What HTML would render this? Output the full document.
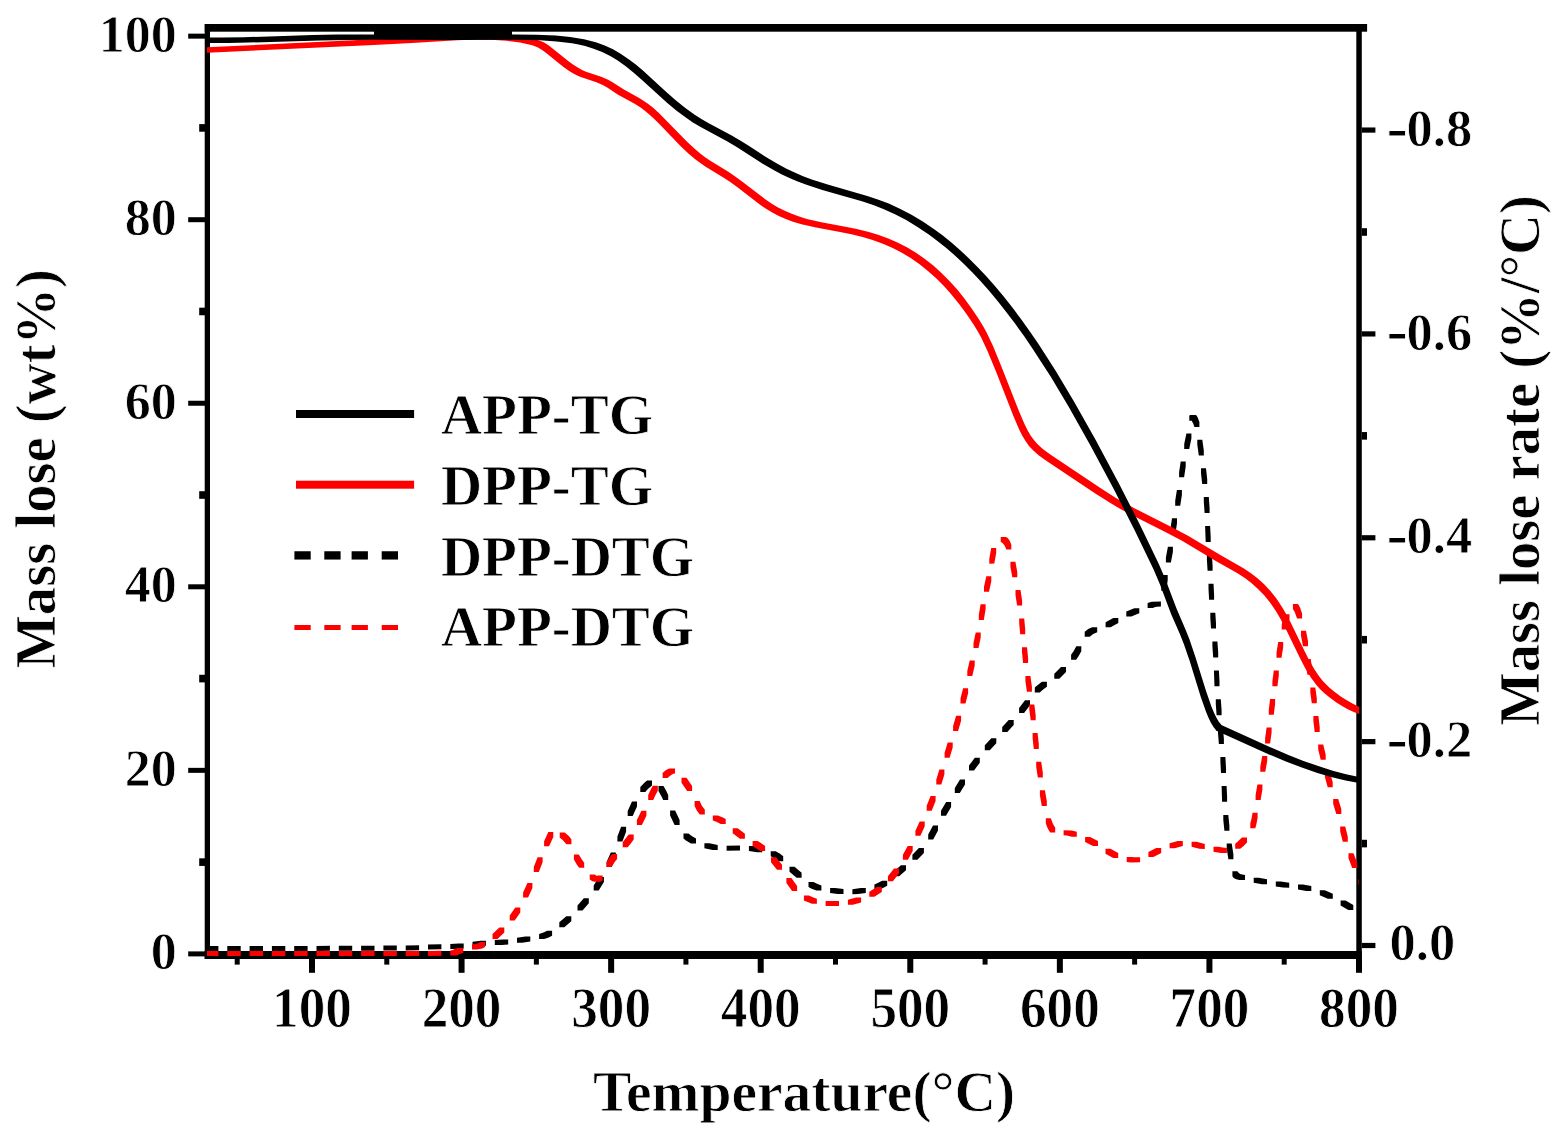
<!DOCTYPE html>
<html><head><meta charset="utf-8"><title>TG / DTG</title>
<style>
html,body{margin:0;padding:0;background:#fff;}
body{width:1558px;height:1138px;overflow:hidden;}
svg{display:block;}
text{font-family:'Liberation Serif', 'Times New Roman', serif;font-weight:bold;fill:#000;stroke:#fff;stroke-width:0.8px;paint-order:fill stroke;}
</style></head>
<body>
<svg width="1558" height="1138" viewBox="0 0 1558 1138">
<rect width="1558" height="1138" fill="#fff"/>
<rect x="204.80" y="24.00" width="1162.30" height="7.70" fill="#000"/>
<rect x="204.70" y="24.00" width="5.30" height="935.00" fill="#000"/>
<rect x="1356.30" y="24.00" width="5.50" height="935.00" fill="#000"/>
<rect x="204.70" y="951.00" width="1157.10" height="8.00" fill="#000"/>
<rect x="188.20" y="951.40" width="16.80" height="5.00" fill="#000"/>
<rect x="188.20" y="767.85" width="16.80" height="5.00" fill="#000"/>
<rect x="188.20" y="584.30" width="16.80" height="5.00" fill="#000"/>
<rect x="188.20" y="400.75" width="16.80" height="5.00" fill="#000"/>
<rect x="188.20" y="217.20" width="16.80" height="5.00" fill="#000"/>
<rect x="188.20" y="33.65" width="16.80" height="5.00" fill="#000"/>
<rect x="199.20" y="858.33" width="5.80" height="7.60" fill="#000"/>
<rect x="199.20" y="674.78" width="5.80" height="7.60" fill="#000"/>
<rect x="199.20" y="491.22" width="5.80" height="7.60" fill="#000"/>
<rect x="199.20" y="307.67" width="5.80" height="7.60" fill="#000"/>
<rect x="199.20" y="124.12" width="5.80" height="7.60" fill="#000"/>
<rect x="1361.80" y="942.90" width="13.60" height="5.20" fill="#000"/>
<rect x="1361.80" y="739.04" width="13.60" height="5.20" fill="#000"/>
<rect x="1361.80" y="535.18" width="13.60" height="5.20" fill="#000"/>
<rect x="1361.80" y="331.32" width="13.60" height="5.20" fill="#000"/>
<rect x="1361.80" y="127.46" width="13.60" height="5.20" fill="#000"/>
<rect x="1361.80" y="839.77" width="5.20" height="7.60" fill="#000"/>
<rect x="1361.80" y="635.91" width="5.20" height="7.60" fill="#000"/>
<rect x="1361.80" y="432.05" width="5.20" height="7.60" fill="#000"/>
<rect x="1361.80" y="228.19" width="5.20" height="7.60" fill="#000"/>
<rect x="309.00" y="959.00" width="6.00" height="13.80" fill="#000"/>
<rect x="458.57" y="959.00" width="6.00" height="13.80" fill="#000"/>
<rect x="608.14" y="959.00" width="6.00" height="13.80" fill="#000"/>
<rect x="757.71" y="959.00" width="6.00" height="13.80" fill="#000"/>
<rect x="907.28" y="959.00" width="6.00" height="13.80" fill="#000"/>
<rect x="1056.85" y="959.00" width="6.00" height="13.80" fill="#000"/>
<rect x="1206.42" y="959.00" width="6.00" height="13.80" fill="#000"/>
<rect x="1355.99" y="959.00" width="6.00" height="13.80" fill="#000"/>
<rect x="234.72" y="959.00" width="5.00" height="5.60" fill="#000"/>
<rect x="384.28" y="959.00" width="5.00" height="5.60" fill="#000"/>
<rect x="533.86" y="959.00" width="5.00" height="5.60" fill="#000"/>
<rect x="683.42" y="959.00" width="5.00" height="5.60" fill="#000"/>
<rect x="833.00" y="959.00" width="5.00" height="5.60" fill="#000"/>
<rect x="982.57" y="959.00" width="5.00" height="5.60" fill="#000"/>
<rect x="1132.13" y="959.00" width="5.00" height="5.60" fill="#000"/>
<rect x="1281.70" y="959.00" width="5.00" height="5.60" fill="#000"/>
<path fill="#000" d="M644.4,782.7 640.3,787.1 640.3,792.1 645.3,792.1 647.9,789.1 652,785.5 652,780.5 647,780.5ZM661.8,796.9 663.2,799.9 668.2,799.9 668.2,794.9 666.3,791.1 663.5,785.9 658.5,785.9 658.5,790.9ZM632.7,815.9 637,806.5 637,801.5 632,801.5 627.7,810.9 627.7,815.9ZM670.1,815.6 674.6,824.9 679.6,824.9 679.6,819.9 675.1,810.6 670.1,810.6ZM622.4,841.6 626.1,831.8 626.1,826.8 621.1,826.8 617.4,836.6 617.4,841.6ZM685.9,840.5 691,843.4 696,843.4 696,838.4 691.7,836 688.5,833.5 683.5,833.5 683.5,838.5ZM704.4,848.2 712.7,850 717.7,850 717.7,845 709.4,843.2 704.4,843.2ZM611.6,867 615.8,857.5 615.8,852.5 610.8,852.5 606.6,862 606.6,867ZM598.7,890.5 603.9,882 603.9,877 598.9,877 593.7,885.5 593.7,890.5ZM583.8,898.3 577.5,905.4 577.5,910.4 582.5,910.4 588.8,903.3 588.8,898.3ZM566.3,916.3 559.3,922.3 559.3,927.3 564.3,927.3 571.3,921.3 571.3,916.3ZM544.1,932.3 539.1,934.1 539.1,939.1 544.1,939.1 548.1,937.8 552.1,935.8 552.1,930.8 547.1,930.8ZM525.3,936.4 517,937.7 517,942.7 522,942.7 530.3,941.4 530.3,936.4ZM503.2,939.4 494.8,939.9 494.8,944.9 501.6,944.9 508.2,944.4 508.2,939.4ZM480.9,940.7 472.5,941.8 472.5,946.8 477.5,946.8 485.9,945.7 485.9,940.7ZM458.7,943.4 450.3,943.9 450.3,948.9 455.3,948.9 463.7,948.4 463.7,943.4ZM441.4,944.3 428,944.5 428,949.5 441.4,949.3ZM405.7,945.4 405.7,950.4 419.1,950.2 419.1,945.2ZM383.4,950.6 396.8,950.6 396.8,945.6 383.4,945.6ZM374.5,945.7 361.1,945.7 361.1,950.7 374.5,950.7ZM352.2,945.8 338.8,945.8 338.8,950.8 352.2,950.8ZM329.9,945.8 316.5,945.9 316.5,950.9 329.9,950.8ZM307.6,945.9 294.2,945.9 294.2,950.9 307.6,950.9ZM207,950.9 218.4,950.9 218.4,945.9 207,945.9ZM227.3,950.9 240.7,950.9 240.7,945.9 227.3,945.9ZM285.3,945.9 271.9,945.9 271.9,950.9 285.3,950.9ZM249.6,950.9 263,950.9 263,945.9 249.6,945.9ZM1175.4,533.9 1177,523.3 1177,518.3 1172,518.3 1170.4,529 1170.4,534ZM1170.9,562.4 1172.9,551.8 1172.9,546.8 1167.9,546.8 1165.9,557.4 1165.9,562.4ZM1166.3,590.7 1167.7,580 1167.7,575 1162.7,575 1161.3,585.7 1161.3,590.7ZM1151.7,601.8 1147.6,603.1 1147.6,608.1 1152.6,608.1 1155.4,607.1 1156.7,606.8 1160.9,606.6 1160.9,601.6ZM1134.3,608.2 1126.3,611.5 1126.3,616.5 1131.3,616.5 1139.3,613.2 1139.3,608.2ZM1113.3,618.1 1105.6,622.3 1105.6,627.3 1110.6,627.3 1118.3,623.1 1118.3,618.1ZM1088.2,629.1 1084.7,631.8 1084.7,636.8 1089.7,636.8 1093.2,634.1 1097.2,632.2 1097.2,627.2 1092.2,627.2ZM1076.1,659.7 1078.7,656 1081.3,651.2 1081.3,646.2 1076.3,646.2 1073.7,651 1071.1,654.7 1071.1,659.7ZM1061,667.1 1054.3,673.7 1054.3,678.7 1059.3,678.7 1066,672.1 1066,667.1ZM1036.5,685.9 1034.8,687.5 1034.8,692.5 1039.8,692.5 1043.1,689.5 1046.9,686.8 1046.9,681.8 1041.9,681.8ZM1024.1,713.1 1030,705.3 1030,700.3 1025,700.3 1019.1,708.1 1019.1,713.1ZM1007.3,731.9 1013.7,725.1 1013.7,720.1 1008.7,720.1 1002.2,727 1002.2,732ZM991.3,738.2 984.8,745.2 984.8,750.2 989.8,750.2 996.3,743.2 996.3,738.2ZM974.8,757.7 969,765.6 969,770.6 974,770.6 979.8,762.7 979.8,757.7ZM960,779.4 954.8,787.9 954.8,792.9 959.8,792.9 965,784.4 965,779.4ZM946,815.8 951.1,807.1 951.1,802.1 946.1,802.1 941,810.8 941,815.8ZM933.2,839.4 938,830.5 938,825.5 933,825.5 928.2,834.4 928.2,839.4ZM740,845.5 726.6,845.8 726.6,850.8 740,850.5ZM748.9,851.1 757.2,852.3 762.2,852.3 762.2,847.3 753.9,846.1 748.9,846.1ZM917.4,859.7 923.9,852.9 923.9,847.9 918.9,847.9 912.4,854.7 912.4,859.7ZM773.8,858 778.2,861.3 783.2,861.3 783.2,856.3 779.7,853.6 775.7,851.3 770.7,851.3 770.7,856.3ZM901,865.2 894.1,871.3 894.1,876.3 899.1,876.3 906,870.2 906,865.2ZM789.5,871.8 796.6,877.7 801.6,877.7 801.6,872.7 794.5,866.8 789.5,866.8ZM876.7,883.5 874.4,884.5 874.4,889.5 879.4,889.5 883.5,887.7 887.2,885.7 887.2,880.7 882.2,880.7ZM811.6,888.7 816.4,890.5 821.4,890.5 821.4,885.5 817.6,884.1 813.5,882 808.5,882 808.5,887ZM837.8,893.9 843.5,893.9 843.5,888.9 835.1,888.1 830.1,888.1 830.1,893.1ZM860.8,888.1 852.4,889.2 852.4,894.2 858,894.1 865.8,893.1 865.8,888.1ZM1191.7,420.8 1193.3,423.8 1194.4,427.1 1199.4,427.1 1199.4,422.1 1197.6,417.3 1196.3,415.3 1195.7,414.9 1190.7,414.9 1190.1,415 1189.5,415.5 1189.3,415.8 1189.3,420.8ZM1189.2,449 1191.4,438.4 1191.4,433.4 1186.4,433.4 1184.2,444 1184.2,449ZM1197.3,444.7 1198.8,455.4 1203.8,455.4 1203.8,450.4 1202.3,439.7 1197.3,439.7ZM1184.1,477.2 1185.7,466.4 1185.7,461.4 1180.7,461.4 1179.1,472.2 1179.1,477.2ZM1201,473.3 1202.2,484.1 1207.2,484.1 1207.2,479.1 1206,468.3 1201,468.3ZM1180.2,505.7 1181.9,495 1181.9,490 1176.9,490 1175.2,500.7 1175.2,505.7ZM1203.8,502 1204.6,512.9 1209.6,512.9 1209.6,507.9 1208.8,497 1203.8,497ZM1205.1,526 1205.7,541.9 1210.7,541.9 1210.7,536.9 1210.1,526ZM1206.9,559.9 1207.6,570.7 1212.6,570.7 1212.6,565.7 1211.9,554.9 1206.9,554.9ZM1208.5,588.8 1209.1,599.7 1214.1,599.7 1214.1,594.7 1213.5,583.8 1208.5,583.8ZM1210.3,617.7 1211,628.5 1216,628.5 1216,623.5 1215.3,612.7 1210.3,612.7ZM1212.4,646.5 1213.2,657.4 1218.2,657.4 1218.2,652.4 1217.4,641.5 1212.4,641.5ZM1213.9,670.4 1214.5,686.3 1219.5,686.3 1219.5,681.3 1218.9,670.4ZM1215.8,704.3 1216.6,715.2 1221.6,715.2 1221.6,710.2 1220.8,699.3 1215.8,699.3ZM1218,733.2 1218.9,744 1223.9,744 1223.9,739 1223,728.2 1218,728.2ZM1220.4,762 1221,772.9 1226,772.9 1226,767.9 1225.4,757 1220.4,757ZM1221.6,785.9 1222.1,801.8 1227.1,801.8 1227.1,796.8 1226.6,785.9ZM1223.3,819.9 1224.4,830.7 1229.4,830.7 1229.4,825.7 1228.3,814.9 1223.3,814.9ZM1226.7,848.5 1228.4,859.2 1233.4,859.2 1233.4,854.2 1231.7,843.5 1226.7,843.5ZM1239.5,880 1245,880 1245,875 1242.3,874.6 1240.1,873.9 1238.3,872.5 1237.4,871.3 1232.4,871.3 1232.4,876.3 1233.3,877.5 1234.2,878.3 1236.2,879.3ZM1253.7,882.8 1262,884.2 1267,884.2 1267,879.2 1258.7,877.8 1253.7,877.8ZM1282.9,887.6 1289.2,887.7 1289.2,882.7 1280.8,881.5 1275.8,881.5 1275.8,886.5ZM1298,889.4 1306.3,890.9 1311.3,890.9 1311.3,885.9 1303,884.4 1298,884.4ZM1319.8,895.3 1327.8,898.8 1332.8,898.8 1332.8,893.8 1324.8,890.3 1319.8,890.3ZM1340.6,905.6 1348.3,910 1353.3,910 1353.3,905 1345.6,900.6 1340.6,900.6Z"/>
<path fill="#f00" d="M667.6,778 669.5,776.2 671.9,774.5 673.5,773.7 675,773.4 675,768.4 670,768.4 668.5,768.7 665.3,770.5 662.6,773 662.6,778ZM681.5,782.7 687.1,790.9 692.1,790.9 692.1,785.9 686.5,777.7 681.5,777.7ZM653.2,799.9 655.5,794.9 657.8,790.8 657.8,785.8 652.8,785.8 650.5,789.9 648.2,794.9 648.2,799.9ZM698,812.3 699.8,814.5 704.8,814.5 704.8,809.5 703.5,808.1 701.9,805.7 699.6,801 694.6,801 694.6,806 696.4,809.8ZM641.9,824.9 646.4,815.7 646.4,810.7 641.4,810.7 636.9,819.9 636.9,824.9ZM716.3,821.8 720.7,824.1 725.7,824.1 725.7,819.1 722.3,817.2 717.8,815.6 712.8,815.6 712.8,820.6ZM732.7,833.2 739.9,838.8 744.9,838.8 744.9,833.8 737.7,828.2 732.7,828.2ZM562.9,840.2 566.4,844.2 571.4,844.2 571.4,839.2 568.8,836.1 564.7,832.6 559.7,832.6 559.7,837.6ZM544.1,846.3 549.1,846.3 553.3,836.9 553.3,831.9 548.3,831.9 544.1,841.3ZM628.7,834.5 622.7,842.2 622.7,847.2 627.7,847.2 630.8,843.5 633.7,839.5 633.7,834.5ZM609.7,857.1 606.6,862.1 606.6,867.1 611.6,867.1 614.7,862.1 617.1,858.9 617.1,853.9 612.1,853.9ZM577.4,865.4 579.2,867.8 584.2,867.8 584.2,862.8 581.3,858.8 578.9,854.4 573.9,854.4 573.9,859.4ZM538.8,872.1 542.6,862.3 542.6,857.3 537.6,857.3 533.8,867.1 533.8,872.1ZM594.7,881.8 600.4,881.7 602.6,880.6 602.6,875.6 597.6,875.6 597,876.1 594.7,874.6 589.7,874.6 589.7,879.6 592.4,881.3ZM528.1,897.5 532.4,888.1 532.4,883.1 527.4,883.1 523.1,892.5 523.1,897.5ZM515.3,907.4 509.7,915.5 509.7,920.5 514.7,920.5 520.3,912.4 520.3,907.4ZM499.3,927.5 492.5,933.9 492.5,938.9 497.5,938.9 504.3,932.5 504.3,927.5ZM477.4,943.5 472,944.6 472,949.6 477,949.6 482.3,948.5 485.1,947 485.1,942 480.1,942ZM455.4,955.4 458.1,955 459.2,954.1 463.3,953 463.3,948 458.3,948 454.2,949.1 453.1,950 450.3,950.4 450.3,955.4ZM428,955.9 441.4,955.8 441.4,950.8 428,950.9ZM405.7,951.1 405.7,956.1 419.1,956 419.1,951ZM207,956.1 218.4,956.1 218.4,951.1 207,951.1ZM271.9,956.1 285.3,956.1 285.3,951.1 271.9,951.1ZM249.6,956.1 263,956.1 263,951.1 249.6,951.1ZM227.3,956.1 240.7,956.1 240.7,951.1 227.3,951.1ZM294.2,956.1 307.6,956.1 307.6,951.1 294.2,951.1ZM316.5,956.1 329.9,956.1 329.9,951.1 316.5,951.1ZM396.8,951.1 383.4,951.1 383.4,956.1 396.8,956.1ZM338.8,956.1 352.2,956.1 352.2,951.1 338.8,951.1ZM361.1,956.1 374.5,956.1 374.5,951.1 361.1,951.1ZM1004.8,546 1006.3,549.5 1011.3,549.5 1011.3,544.5 1009.8,541 1008.5,538.9 1007.1,537.6 1005.7,536.9 1000.7,536.9 1000.7,541.9 1001.4,542.2 1002.8,543.2ZM994.3,563.5 996.2,553 996.2,548 991.2,548 989.3,558.7 989.3,563.7ZM1010.4,566.7 1012.3,577.3 1017.3,577.3 1017.3,572.3 1015.4,561.7 1010.4,561.7ZM989,591.8 991.3,581.3 991.3,576.3 986.3,576.3 984,586.8 984,591.8ZM1015.5,594.9 1017.1,605.6 1022.1,605.6 1022.1,600.6 1020.5,589.9 1015.5,589.9ZM983.8,620 985.6,609.3 985.6,604.3 980.6,604.3 978.8,615 978.8,620ZM1019.2,623.5 1020.2,634.3 1025.2,634.3 1025.2,629.3 1024.2,618.5 1019.2,618.5ZM978.5,648.1 980.7,637.6 980.7,632.6 975.7,632.6 973.5,643.1 973.5,648.1ZM1022,652.3 1023.1,663.1 1028.1,663.1 1028.1,658.1 1027,647.3 1022,647.3ZM972.3,676 974.7,665.5 974.7,660.5 969.7,660.5 967.3,671 967.3,676ZM1025.4,680.9 1026.9,691.7 1031.9,691.7 1031.9,686.7 1030.4,675.9 1025.4,675.9ZM965.5,703.6 968.1,693.2 968.1,688.2 963.1,688.2 960.5,698.6 960.5,703.6ZM1029.3,709.4 1030.7,720.2 1035.7,720.2 1035.7,715.2 1034.3,704.4 1029.3,704.4ZM958.1,730.9 961.1,720.7 961.1,715.7 956.1,715.7 953.1,725.9 953.1,730.9ZM1032.6,738.1 1033.8,748.9 1038.8,748.9 1038.8,743.9 1037.6,733.1 1032.6,733.1ZM949.6,757.7 952.7,747.6 952.7,742.6 947.7,742.6 944.6,752.7 944.6,757.7ZM1036.2,766.7 1037.8,777.4 1042.8,777.4 1042.8,772.4 1041.2,761.7 1036.2,761.7ZM941.3,784.6 944.4,774.5 944.4,769.5 939.4,769.5 936.3,779.6 936.3,784.6ZM1039.9,795.3 1041.8,805.9 1046.8,805.9 1046.8,800.9 1044.9,790.3 1039.9,790.3ZM931.7,810.8 935.6,801.1 935.6,796.1 930.6,796.1 926.7,805.8 926.7,810.8ZM920.4,835.8 924.7,826.4 924.7,821.4 919.7,821.4 915.4,830.8 915.4,835.8ZM752.6,846.1 760.1,850.9 765.1,850.9 765.1,845.9 761.3,843.3 757.6,841.1 752.6,841.1ZM907.7,845.9 902.9,854.8 902.9,859.8 907.9,859.8 912.7,850.9 912.7,845.9ZM771,862.2 777,869.8 782,869.8 782,864.8 776,857.2 771,857.2ZM892.9,881.2 899,873.6 899,868.6 894,868.6 887.9,876.2 887.9,881.2ZM786.4,883.1 792.1,891.1 797.1,891.1 797.1,886.1 791.4,878.1 786.4,878.1ZM876.8,886.9 869.3,891.8 869.3,896.8 874.3,896.8 881.8,891.9 881.8,886.9ZM803.9,900.5 811.9,903.7 816.9,903.7 816.9,898.7 812.8,897.2 808.9,895.5 803.9,895.5ZM856.1,897.6 847.9,899.7 847.9,904.7 852.9,904.7 861.1,902.6 861.1,897.6ZM839,906.1 839,901.1 825.6,901.1 825.6,906.1ZM1294.7,611.9 1297.1,618.4 1302.1,618.4 1302.1,613.4 1300.3,608.3 1299.1,605.7 1297.9,604 1292.9,604 1292.9,609ZM1286.7,629.5 1289.5,619.3 1289.5,614.3 1284.5,614.3 1281.7,624.5 1281.7,629.5ZM1301,635.7 1303,646.3 1308,646.3 1308,641.3 1306,630.7 1301,630.7ZM1281.5,657.7 1283.2,647 1283.2,642 1278.2,642 1276.5,652.7 1276.5,657.7ZM1305.7,664.1 1307.4,674.8 1312.4,674.8 1312.4,669.8 1310.7,659.1 1305.7,659.1ZM1277.4,686.2 1278.8,675.4 1278.8,670.4 1273.8,670.4 1272.4,681.2 1272.4,686.2ZM1310.3,692.4 1311.8,703.2 1316.8,703.2 1316.8,698.2 1315.3,687.4 1310.3,687.4ZM1273.8,714.8 1275.1,704 1275.1,699 1270.1,699 1268.8,709.8 1268.8,714.8ZM1313.4,721.1 1314.7,731.9 1319.7,731.9 1319.7,726.9 1318.4,716.1 1313.4,716.1ZM1270.1,743.4 1271.6,732.6 1271.6,727.6 1266.6,727.6 1265.1,738.4 1265.1,743.4ZM1318.2,749.4 1320.7,759.8 1325.7,759.8 1325.7,754.8 1323.2,744.4 1318.2,744.4ZM1265.3,771.7 1267.2,761.1 1267.2,756.1 1262.2,756.1 1260.3,766.7 1260.3,771.7ZM1324.9,777 1327.7,787.3 1332.7,787.3 1332.7,782.3 1329.9,772 1324.9,772ZM1260.6,800 1262.4,789.4 1262.4,784.4 1257.4,784.4 1255.6,795 1255.6,800ZM1333.2,803.9 1336.3,814.1 1341.3,814.1 1341.3,809.1 1338.2,798.9 1333.2,798.9ZM1255.3,828.2 1256.5,823.8 1257.6,817.7 1257.6,812.7 1252.6,812.7 1251.5,818.8 1250.3,823.2 1250.3,828.2ZM1048.6,830.1 1050.2,832.4 1055.2,832.4 1055.2,827.4 1054,825.8 1052.8,823.5 1050.8,818.2 1045.8,818.2 1045.8,823.2 1047,826.7ZM1066.8,835.4 1071.8,836.8 1076.8,836.8 1076.8,831.8 1071.8,830.4 1063.6,830.2 1063.6,835.2ZM1340.2,831.4 1342.8,841.8 1347.8,841.8 1347.8,836.8 1345.2,826.4 1340.2,826.4ZM1085.1,842.1 1093,845.9 1098,845.9 1098,840.9 1090.1,837.1 1085.1,837.1ZM1237,842.3 1235.2,843.7 1235.2,848.7 1240.2,848.7 1243.6,845.9 1247,842.4 1247,837.4 1242,837.4ZM1177.8,841.1 1169.6,843.2 1169.6,848.2 1174.6,848.2 1182.8,846.1 1182.8,841.1ZM1199.2,848.8 1204.8,848.9 1204.8,843.9 1196.6,841.7 1191.6,841.7 1191.6,846.7ZM1220.8,853 1226.9,853.1 1226.9,848.1 1222.7,847.6 1218.5,846.8 1213.5,846.8 1213.5,851.8ZM1156.2,848 1148.4,852.1 1148.4,857.1 1153.4,857.1 1161.2,853 1161.2,848ZM1105.5,853.7 1113.2,858.1 1118.2,858.1 1118.2,853.1 1110.5,848.7 1105.5,848.7ZM1130.8,862.4 1140.1,862.2 1140.1,857.2 1134.1,857.3 1131.7,857.1 1126.7,857.1 1126.7,862.1ZM1348.5,858.3 1352.2,868.1 1357.2,868.1 1357.2,863.1 1353.5,853.3 1348.5,853.3ZM1358.5,879.2 1358.5,884.2 1359,885.3 1359,879.2Z"/>
<path fill="#f00" d="M389.5,38.6 207,47.2 207,52.8 373.9,45 411.9,43.1 457.2,40.3 475.5,39.6 490.8,39.7 506.8,40.8 520.1,42.6 526.7,43.9 532.3,45.3 537.5,47.3 542.5,50.3 547.1,53.7 563.2,66.7 568.4,70.4 573.3,73.5 577.2,75.5 580.7,77 596.4,82.3 602.7,85 607.2,87.6 618.1,94.7 634.2,103.6 641,107.8 646.7,112.2 653,117.8 659.6,124.3 681.2,146.7 688.4,153.4 694.9,158.9 700,162.8 705.3,166.4 723.3,177.5 730.6,182.2 738.1,187.7 759.5,204.3 766,208.8 772.3,212.5 778.8,215.9 785.7,219 793,221.7 801.5,224.2 816,227.6 841.4,232.2 851.4,234.3 862.6,237.1 872.6,240.1 882.9,243.8 892.7,248 901.9,252.8 910.7,258.1 919.6,264.3 927.9,270.9 935.9,278 943.9,286 951.4,294.5 959.1,303.9 966.7,314.3 973.9,325.1 977.7,331.3 981.3,337.8 987.7,351.4 995.9,371.3 1013.6,416.6 1019.3,429.8 1022.3,435.8 1025.7,441.3 1029,445.9 1032.8,450.1 1038.6,455.2 1047.4,461.4 1095.3,493.5 1111.2,503.6 1120,508.8 1129.7,514 1166.3,532.4 1182,540.8 1215.8,561 1237.5,573.3 1244.8,578 1251.1,582.7 1258,588.9 1264.4,595.6 1270.2,602.8 1275.9,611.1 1280.4,618.7 1284.6,626.5 1299.7,657.4 1305.1,668 1310.7,677.3 1316.2,684.8 1320.4,689.5 1325,693.8 1330,697.8 1336.4,702.4 1342.5,706.3 1348.2,709.5 1353.7,712 1359,713.9 1359,706.7 1352.9,703.8 1347.2,700.6 1341.1,696.7 1334.8,692.1 1330.4,688.5 1326.2,684.6 1322.4,680.5 1318.9,676.1 1314.5,669.6 1309.4,660.7 1304.4,650.7 1290.3,621.8 1286.1,613.9 1282,607 1276.4,598.6 1270.6,591.3 1264.4,584.5 1258.1,578.7 1251.3,573.5 1243.5,568.3 1221.2,555.6 1188,535.8 1172.4,527.4 1134.4,508.3 1124.7,503.1 1115.9,497.9 1100,487.8 1050.3,454.5 1042.8,449 1037.6,444.3 1033.9,440 1030.6,435.4 1027.7,430.4 1024.7,424.5 1019,411.2 1001.2,365.9 993,346.1 986.6,332.5 983,326 979.2,319.8 972,309 964.4,298.6 956.8,289.1 949.2,280.7 941.2,272.7 933.3,265.6 924.9,258.9 916,252.7 907.3,247.5 898,242.7 888.3,238.4 878,234.7 868,231.7 856.7,228.9 846.7,226.9 821.4,222.2 806.8,218.9 798.4,216.3 791.1,213.6 784.2,210.6 777.6,207.2 771.4,203.4 764.9,198.9 743.4,182.4 735.9,176.9 728.7,172.1 710.7,161.1 705.4,157.5 700.2,153.6 693.8,148.1 686.6,141.3 658.9,113 652.6,107.3 646.9,102.9 639.6,98.2 623.5,89.3 612.5,82.3 608.1,79.7 601.8,76.9 586,71.7 582.5,70.2 578.6,68.1 573.7,65.1 568.5,61.3 548.5,45.3 544.1,42.6 540,40.7 535.3,39.3 527.9,37.7 521.1,36.5 513.1,35.5 496.2,34.4 477,34.2 454.7,34.9Z"/>
<path fill="#000" d="M312.8,35.1 243.9,37.2 222.2,37.6 207,37.5 207,42.9 228.5,42.9 248.3,42.6 320.1,40.4 350.5,39.9 377,39.8 457,40.1 517.3,39.8 539.8,40.3 556.8,41.4 571.9,43.3 578.6,44.6 585.1,46.1 593.6,48.7 602.2,52.1 610.2,56.1 617.7,60.6 625.4,66 633.7,72.7 641.7,79.7 667.3,103.1 676.6,110.8 685.8,117.6 692.9,122.4 701.1,127.3 727,141.3 735.9,146.4 762.7,163.7 774,170.3 781.9,174.4 790,178.3 797.7,181.5 806.5,184.8 822.3,189.9 861.9,201.3 873.2,205.1 883.3,209 895,214.3 906.2,220.1 917.5,226.9 928.8,234.5 937.4,240.9 946.3,248.1 954.9,255.5 963.7,263.8 972.2,272.3 980.9,281.6 989.3,291.1 998,301.5 1006.8,312.7 1015.4,324.1 1024.2,336.3 1033.1,349.4 1050.8,376.8 1069.1,407.5 1090.3,445.3 1114,489.6 1134.9,530.7 1153.5,569.2 1160.1,584.7 1171.3,614.4 1180.1,634.6 1184.1,644.7 1189.7,661.1 1200.8,697 1206,711.7 1208.6,718 1210.9,722.7 1213.5,727.1 1215.9,730 1215.9,730.5 1269,754.4 1285.9,761.5 1301.8,767.6 1317.4,773 1332,777.3 1345.6,780.6 1359,783.1 1359,776.9 1346.1,774.2 1332.7,770.7 1318.2,766.1 1303.5,760.9 1288.4,755 1272.3,748.1 1221.3,725.1 1221.3,724.7 1218.8,721.7 1216.3,717.4 1214,712.7 1211.4,706.4 1206.2,691.6 1195,655.8 1189.4,639.3 1185.4,629.3 1176.7,609 1165.4,579.3 1158.8,563.9 1140.3,525.4 1119.3,484.3 1095.7,439.9 1074.4,402.2 1056.1,371.5 1038.5,344.1 1029.5,331 1020.8,318.8 1012.2,307.3 1003.3,296.1 994.7,285.8 986.3,276.2 977.5,266.9 969,258.4 960.2,250.2 951.7,242.7 942.8,235.6 934.2,229.2 922.8,221.5 911.5,214.8 900.4,208.9 888.7,203.6 878.5,199.7 867.3,195.9 827.7,184.6 811.8,179.4 803.1,176.2 794.7,172.6 786.5,168.8 778.7,164.6 768,158.3 748.7,145.7 740.6,140.7 731.7,135.6 708.3,123 701.4,119 694.7,114.7 685.3,108 675.4,100 666.3,92.1 642.9,70.5 635.8,64.6 629,59.4 620.6,53.7 613,49.3 604.7,45.5 595.9,42.3 584,39.2 570.2,36.9 555.6,35.5 536.4,34.7 514.7,34.4 453.1,34.7 363,34.4 337.2,34.6Z"/>
<rect x="374.00" y="31.00" width="138.00" height="5.50" fill="#000"/>
<text transform="translate(176.70,969.30)" font-size="52.00" text-anchor="end">0</text>
<text transform="translate(176.70,785.75)" font-size="52.00" text-anchor="end">20</text>
<text transform="translate(176.70,602.20)" font-size="52.00" text-anchor="end">40</text>
<text transform="translate(176.70,418.65)" font-size="52.00" text-anchor="end">60</text>
<text transform="translate(176.70,235.10)" font-size="52.00" text-anchor="end">80</text>
<text transform="translate(176.70,51.55)" font-size="52.00" text-anchor="end">100</text>
<text transform="translate(1389.50,959.90)" font-size="52.50" text-anchor="start">0.0</text>
<text transform="translate(1386.4,760.14) scale(1.23,1.24)" font-size="52.5">-</text>
<text transform="translate(1406.50,757.34)" font-size="52.50" text-anchor="start">0.2</text>
<text transform="translate(1386.4,556.28) scale(1.23,1.24)" font-size="52.5">-</text>
<text transform="translate(1406.50,553.48)" font-size="52.50" text-anchor="start">0.4</text>
<text transform="translate(1386.4,352.42) scale(1.23,1.24)" font-size="52.5">-</text>
<text transform="translate(1406.50,349.62)" font-size="52.50" text-anchor="start">0.6</text>
<text transform="translate(1386.4,148.56) scale(1.23,1.24)" font-size="52.5">-</text>
<text transform="translate(1406.50,145.76)" font-size="52.50" text-anchor="start">0.8</text>
<text transform="translate(312.00,1026.50) scale(0.9500,1)" font-size="56.00" text-anchor="middle">100</text>
<text transform="translate(461.57,1026.50) scale(0.9500,1)" font-size="56.00" text-anchor="middle">200</text>
<text transform="translate(611.14,1026.50) scale(0.9500,1)" font-size="56.00" text-anchor="middle">300</text>
<text transform="translate(760.71,1026.50) scale(0.9500,1)" font-size="56.00" text-anchor="middle">400</text>
<text transform="translate(910.28,1026.50) scale(0.9500,1)" font-size="56.00" text-anchor="middle">500</text>
<text transform="translate(1059.85,1026.50) scale(0.9500,1)" font-size="56.00" text-anchor="middle">600</text>
<text transform="translate(1209.42,1026.50) scale(0.9500,1)" font-size="56.00" text-anchor="middle">700</text>
<text transform="translate(1358.99,1026.50) scale(0.9500,1)" font-size="56.00" text-anchor="middle">800</text>
<text transform="translate(593.00,1110.80)" font-size="57.50" text-anchor="start">Temperature(°C)</text>
<text transform="translate(54.80,668.60) rotate(-90) scale(0.9850,1)" font-size="57.50" text-anchor="start">Mass lose (wt%)</text>
<text transform="translate(1538.70,725.80) rotate(-90) scale(0.9850,1)" font-size="57.50" text-anchor="start">Mass lose rate (%/°C)</text>
<rect x="296.00" y="410.00" width="118.10" height="8.00" fill="#000"/>
<text transform="translate(440.90,434.20)" font-size="57.00" text-anchor="start">APP-TG</text>
<rect x="296.00" y="480.70" width="118.10" height="8.00" fill="#f00"/>
<text transform="translate(440.90,504.60)" font-size="57.00" text-anchor="start">DPP-TG</text>
<rect x="294.40" y="551.25" width="16.30" height="8.30" fill="#000"/>
<rect x="324.30" y="551.25" width="16.30" height="8.30" fill="#000"/>
<rect x="351.60" y="551.25" width="16.30" height="8.30" fill="#000"/>
<rect x="381.70" y="551.25" width="16.30" height="8.30" fill="#000"/>
<text transform="translate(440.90,575.60)" font-size="57.00" text-anchor="start">DPP-DTG</text>
<rect x="294.40" y="625.00" width="16.30" height="5.00" fill="#f00"/>
<rect x="324.30" y="625.00" width="16.30" height="5.00" fill="#f00"/>
<rect x="351.60" y="625.00" width="16.30" height="5.00" fill="#f00"/>
<rect x="381.70" y="625.00" width="16.30" height="5.00" fill="#f00"/>
<text transform="translate(440.90,646.20)" font-size="57.00" text-anchor="start">APP-DTG</text>
</svg>
</body></html>
